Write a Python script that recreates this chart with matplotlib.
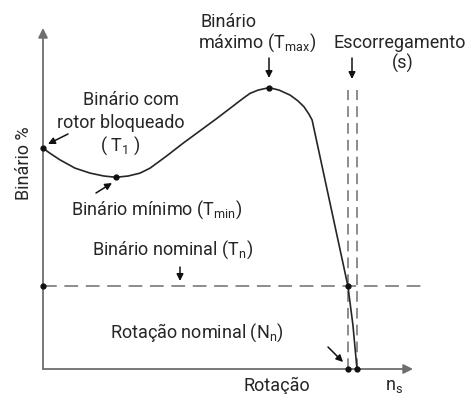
import matplotlib
matplotlib.use("Agg")
import matplotlib.pyplot as plt
from matplotlib.patches import FancyArrowPatch

plt.rcParams["font.family"] = ["Roboto", "DejaVu Sans"]
plt.rcParams["mathtext.fontset"] = "custom"
plt.rcParams["mathtext.rm"] = "Roboto"
plt.rcParams["mathtext.it"] = "Roboto"

# Torque-speed curve: speed in % of synchronous speed, torque in % of nominal
speed = [0, 2.2, 5.4, 10.2, 15.0, 19.4, 23.2, 27.1, 30.9, 34.1, 39.5, 44.6,
         55.4, 63.7, 65.9, 68.5, 72.0, 75.2, 78.7, 81.2, 83.1, 84.7, 85.7,
         91.4, 97.1, 98.7, 100]
torque = [266, 260, 252, 242, 236, 232.5, 231, 232.5, 236, 242, 257, 272,
          302, 326, 332, 336, 339, 336, 330, 323, 316, 307, 300,
          200, 100, 53, 0]

T_LOCKED = 266
T_MIN_SPEED, T_MIN = 23.2, 231
T_MAX_SPEED, T_MAX = 72.0, 339
T_NOMINAL = 100
N_NOMINAL = 97.1
N_SYNC = 100

W, H = 469, 394
INK = "#262626"
GREY = "#6e6e6e"

fig = plt.figure(figsize=(W / 100, H / 100), dpi=100)
ax = fig.add_axes([0, 0, 1, 1])
# origin sits at pixel (43, 369); 3.14 px per % speed, 0.83 px per % torque
ax.set_xlim(-43 / 3.14, (W - 43) / 3.14)
ax.set_ylim(-(H - 369) / 0.83, 369 / 0.83)
ax.axis("off")


def px(x, y):
    return (x / W, 1 - y / H)


def y_of(py):
    return (369 - py) / 0.83


def x_of(pxl):
    return (pxl - 43) / 3.14


# axes with arrow heads
for tip in [(0, y_of(28)), (x_of(413), 0)]:
    ax.annotate("", xy=tip, xytext=(0, 0),
                arrowprops=dict(arrowstyle="-|>", color=GREY, lw=1.3,
                                mutation_scale=14, shrinkA=0, shrinkB=0))

# reference dashed lines
ax.plot([0, x_of(422)], [T_NOMINAL, T_NOMINAL], color=GREY, lw=1.1,
        dashes=(9, 5))
for xv in (N_NOMINAL, N_SYNC):
    ax.plot([xv, xv], [0, y_of(90)], color=GREY, lw=1.1, dashes=(7, 4))

ax.plot(speed, torque, color=INK, lw=1.2, solid_joinstyle="round")

pts_x = [0, T_MIN_SPEED, T_MAX_SPEED, 0, N_NOMINAL, N_NOMINAL, N_SYNC]
pts_y = [T_LOCKED, T_MIN, T_MAX, T_NOMINAL, T_NOMINAL, 0, 0]
ax.plot(pts_x, pts_y, "o", color="#111", ms=3.5, zorder=5)

fs = 13
tkw = dict(color=INK, fontsize=fs, transform=fig.transFigure, va="center")

fig.text(*px(24, 163), "Binário %", rotation=90, ha="center", **tkw)
fig.text(*px(131, 100), "Binário com", ha="center", **tkw)
fig.text(*px(121, 123), "rotor bloqueado", ha="center", **tkw)
fig.text(*px(120, 146), r"( $\mathrm{T_1}$ )", ha="center", **tkw)
fig.text(*px(71, 210), r"Binário mínimo ($\mathrm{T_{min}}$)", ha="left", **tkw)
fig.text(*px(92, 250), r"Binário nominal ($\mathrm{T_n}$)", ha="left", **tkw)
fig.text(*px(110, 333), r"Rotação nominal ($\mathrm{N_n}$)", ha="left", **tkw)
fig.text(*px(277, 386), "Rotação", ha="center", **tkw)
fig.text(*px(385, 386), r"$\mathrm{n_s}$", ha="left", **tkw)
fig.text(*px(201, 22), "Binário", ha="left", **tkw)
fig.text(*px(198, 43), r"máximo ($\mathrm{T_{max}}$)", ha="left", **tkw)
fig.text(*px(466, 43), "Escorregamento", ha="right", **tkw)
fig.text(*px(403, 63), "(s)", ha="center", **tkw)

akw = dict(arrowstyle="-|>", color="#111", lw=1.1, mutation_scale=10,
           shrinkA=0, shrinkB=0)


def pointer(x0, y0, x1, y1):
    fig.add_artist(FancyArrowPatch(px(x0, y0), px(x1, y1),
                                   transform=fig.transFigure, **akw))


pointer(68, 134, 48, 144)      # locked rotor
pointer(96, 193, 112, 183)     # minimum
pointer(269, 58, 269, 78)      # maximum
pointer(352, 58, 352, 79)      # slip
pointer(180, 267, 180, 281)    # nominal torque
pointer(328, 347, 343, 362)    # nominal speed

fig.savefig("out.png", dpi=100)
